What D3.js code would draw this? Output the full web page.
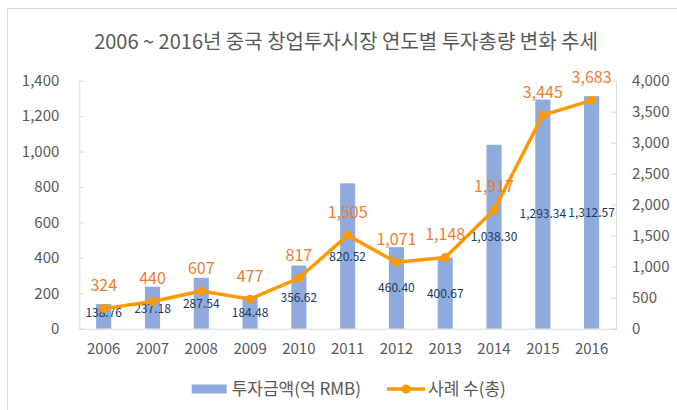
<!DOCTYPE html>
<html>
<head>
<meta charset="utf-8">
<script src="https://cdn.jsdelivr.net/npm/d3@7"></script>
<style>
  body { margin: 0; background: #fff; }
  text { font-family: "Noto Sans CJK KR", "Noto Sans", sans-serif; }
</style>
</head>
<body>
<div id="chart"></div>
<script>
const width = 677;
const height = 410;

const years = ["2006", "2007", "2008", "2009", "2010", "2011", "2012", "2013", "2014", "2015", "2016"];
const amounts = [138.76, 237.18, 287.54, 184.48, 356.62, 820.52, 460.40, 400.67, 1038.30, 1293.34, 1312.57];
const cases = [324, 440, 607, 477, 817, 1505, 1071, 1148, 1917, 3445, 3683];
const leftTicks = [0, 200, 400, 600, 800, 1000, 1200, 1400];
const rightTicks = [0, 500, 1000, 1500, 2000, 2500, 3000, 3500, 4000];

// where the bar labels sit (left-axis units), they were moved by hand in the original
const barLabelAt = [90, 111, 139, 90, 175, 406, 230, 196, 518, 648, 653];

const barColor = "#8FAADC";
const lineColor = "#FF9900";
const lineLabelColor = "#ED7D31";
const barLabelColor = "#203864";
const textColor = "#595959";
const axisColor = "#D9D9D9";

const plot = { left: 79.3, right: 616, top: 80.7, bottom: 328.7 };

const svg = d3.select("#chart")
  .append("svg")
  .attr("width", width)
  .attr("height", height);

svg.append("rect")
  .attr("x", 7.5)
  .attr("y", 8.5)
  .attr("width", 700)
  .attr("height", 420)
  .attr("fill", "#fff")
  .attr("stroke", axisColor);

svg.append("text")
  .attr("x", 346)
  .attr("y", 42)
  .attr("dy", "0.35em")
  .attr("text-anchor", "middle")
  .attr("fill", textColor)
  .style("font-size", "20px")
  .text("2006 ~ 2016년 중국 창업투자시장 연도별 투자총량 변화 추세");

const xScale = d3.scaleBand()
  .domain(years)
  .range([plot.left, plot.right])
  .padding(0);

const yLeft = d3.scaleLinear()
  .domain([0, 1400])
  .range([plot.bottom, plot.top]);

const yRight = d3.scaleLinear()
  .domain([0, 4000])
  .range([plot.bottom, plot.top]);

const barWidth = xScale.bandwidth() * 0.31;
const cx = d => xScale(d) + xScale.bandwidth() / 2;

// bars
svg.selectAll(".bar")
  .data(amounts)
  .enter()
  .append("rect")
  .attr("class", "bar")
  .attr("x", (d, i) => cx(years[i]) - barWidth / 2)
  .attr("y", d => yLeft(d))
  .attr("width", barWidth)
  .attr("height", d => plot.bottom - yLeft(d))
  .attr("fill", barColor);

// axes
const leftAxis = svg.append("g")
  .attr("transform", `translate(${plot.left},0)`)
  .call(d3.axisLeft(yLeft).tickValues(leftTicks).tickSize(-5).tickSizeOuter(0).tickPadding(20).tickFormat(d3.format(",")));

const rightAxis = svg.append("g")
  .attr("transform", `translate(${plot.right},0)`)
  .call(d3.axisRight(yRight).tickValues(rightTicks).tickSize(-5).tickSizeOuter(0).tickPadding(16).tickFormat(d3.format(",")));

const xAxis = svg.append("g")
  .attr("transform", `translate(0,${plot.bottom})`)
  .call(d3.axisBottom(xScale).tickSize(0).tickSizeOuter(0).tickPadding(15));

[leftAxis, rightAxis, xAxis].forEach(g => {
  g.select(".domain").attr("stroke", axisColor);
  g.selectAll(".tick line").attr("stroke", axisColor);
  g.selectAll(".tick text")
    .attr("fill", textColor)
    .style("font-size", "15px")
    .style("font-family", '"Noto Sans CJK KR", sans-serif');
});

// bar labels
svg.selectAll(".bar-label")
  .data(amounts)
  .enter()
  .append("text")
  .attr("class", "bar-label")
  .attr("x", (d, i) => cx(years[i]))
  .attr("y", (d, i) => yLeft(barLabelAt[i]))
  .attr("dy", "0.35em")
  .attr("text-anchor", "middle")
  .attr("fill", barLabelColor)
  .style("font-size", "12px")
  .text(d => d3.format(",.2f")(d));

// line
const line = d3.line()
  .x((d, i) => cx(years[i]))
  .y(d => yRight(d));

svg.append("path")
  .datum(cases)
  .attr("d", line)
  .attr("fill", "none")
  .attr("stroke", lineColor)
  .attr("stroke-width", 3.5)
  .attr("stroke-linejoin", "round");

svg.selectAll(".dot")
  .data(cases)
  .enter()
  .append("circle")
  .attr("class", "dot")
  .attr("cx", (d, i) => cx(years[i]))
  .attr("cy", d => yRight(d))
  .attr("r", 4.5)
  .attr("fill", lineColor);

svg.selectAll(".line-label")
  .data(cases)
  .enter()
  .append("text")
  .attr("class", "line-label")
  .attr("x", (d, i) => cx(years[i]))
  .attr("y", d => yRight(d) - 23)
  .attr("dy", "0.35em")
  .attr("text-anchor", "middle")
  .attr("fill", lineLabelColor)
  .style("font-size", "16px")
  .text(d => d3.format(",")(d));

// legend
const legend = svg.append("g").attr("transform", "translate(0,389)");

legend.append("rect")
  .attr("x", 191.7)
  .attr("y", -4.5)
  .attr("width", 35)
  .attr("height", 9)
  .attr("fill", barColor);

legend.append("text")
  .attr("x", 231.7)
  .attr("dy", "0.35em")
  .attr("fill", textColor)
  .style("font-size", "17px")
  .text("투자금액(억 RMB)");

legend.append("line")
  .attr("x1", 387)
  .attr("x2", 425)
  .attr("stroke", lineColor)
  .attr("stroke-width", 3.5);

legend.append("circle")
  .attr("cx", 406)
  .attr("r", 4.5)
  .attr("fill", lineColor);

legend.append("text")
  .attr("x", 428)
  .attr("dy", "0.35em")
  .attr("fill", textColor)
  .style("font-size", "17px")
  .text("사례 수(총)");
</script>
</body>
</html>
